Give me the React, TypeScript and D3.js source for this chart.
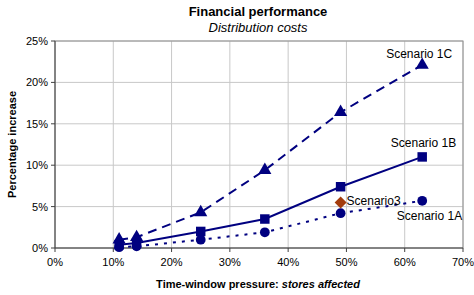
import * as d3 from "d3";

// x = share of stores affected (%), y = percentage increase (%)
const storesAffected = [11, 14, 25, 36, 49, 63];
const scenario1A = [0.1, 0.2, 1.0, 1.9, 4.2, 5.7];
const scenario1B = [0.4, 0.6, 2.0, 3.5, 7.4, 11.0];
const scenario1C = [1.0, 1.3, 4.3, 9.4, 16.4, 22.1];
const scenario3 = { x: 49, y: 5.5 };

const xTicks = [0, 10, 20, 30, 40, 50, 60, 70];
const yTicks = [0, 5, 10, 15, 20, 25];

const W = 474;
const H = 295;
const m = { left: 55, right: 11, top: 41, bottom: 47 };
const navy = "#000080";
const font = "'Liberation Sans', Arial, sans-serif";

const App = () => {
  const x = d3.scaleLinear().domain([0, 70]).range([m.left, W - m.right]);
  const y = d3.scaleLinear().domain([0, 25]).range([H - m.bottom, m.top]);
  const line = d3
    .line<number>()
    .x((_, i) => x(storesAffected[i]))
    .y((d) => y(d));

  const tri = d3.symbol(d3.symbolTriangle, 75)()!;
  const sq = d3.symbol(d3.symbolSquare, 90)()!;
  const circ = d3.symbol(d3.symbolCircle, 75)()!;
  const diamond = "M0,-6L6,0L0,6L-6,0Z";

  return (
    <svg
      width={W}
      height={H}
      style={{ position: "absolute", left: 0, top: 0, background: "#fff" }}
      fontFamily={font}
    >
      {/* grid */}
      {xTicks.slice(1).map((t) => (
        <line key={"gx" + t} x1={x(t)} x2={x(t)} y1={y(25)} y2={y(0)} stroke="#c8c8c8" />
      ))}
      {yTicks.slice(1).map((t) => (
        <line key={"gy" + t} x1={x(0)} x2={x(70)} y1={y(t)} y2={y(t)} stroke="#c8c8c8" />
      ))}
      <rect x={x(0)} y={y(25)} width={x(70) - x(0)} height={y(0) - y(25)} fill="none" stroke="#909090" />
      {/* axes */}
      <line x1={x(0)} x2={x(0)} y1={y(25)} y2={y(0)} stroke="#404040" />
      <line x1={x(0)} x2={x(70)} y1={y(0)} y2={y(0)} stroke="#404040" />
      {xTicks.map((t) => (
        <g key={"xt" + t}>
          <line x1={x(t)} x2={x(t)} y1={y(0)} y2={y(0) + 4} stroke="#404040" />
          <text x={x(t)} y={y(0) + 18} fontSize={11} textAnchor="middle" fill="#000">
            {t}%
          </text>
        </g>
      ))}
      {yTicks.map((t) => (
        <g key={"yt" + t}>
          <line x1={x(0) - 4} x2={x(0)} y1={y(t)} y2={y(t)} stroke="#404040" />
          <text x={x(0) - 7} y={y(t) + 4} fontSize={11} textAnchor="end" fill="#000">
            {t}%
          </text>
        </g>
      ))}

      {/* series */}
      <path d={line(scenario1C)!} fill="none" stroke={navy} strokeWidth={2} strokeDasharray="9,6" />
      <path d={line(scenario1B)!} fill="none" stroke={navy} strokeWidth={2} />
      <path d={line(scenario1A)!} fill="none" stroke={navy} strokeWidth={2} strokeDasharray="3,6" />
      {scenario1C.map((v, i) => (
        <path key={"c" + i} d={tri} transform={`translate(${x(storesAffected[i])},${y(v)})`} fill={navy} />
      ))}
      {scenario1B.map((v, i) => (
        <path key={"b" + i} d={sq} transform={`translate(${x(storesAffected[i])},${y(v)})`} fill={navy} />
      ))}
      {scenario1A.map((v, i) => (
        <path key={"a" + i} d={circ} transform={`translate(${x(storesAffected[i])},${y(v)})`} fill={navy} />
      ))}
      <path d={diamond} transform={`translate(${x(scenario3.x)},${y(scenario3.y)})`} fill="#a33c0c" />

      {/* series labels */}
      <g fontSize={12} fill="#000">
        <text x={x(63) + 30} y={y(22.1) - 7} textAnchor="end">Scenario 1C</text>
        <text x={x(63) + 34} y={y(11.0) - 10} textAnchor="end">Scenario 1B</text>
        <text x={x(49) + 6} y={y(5.5) + 3}>Scenario3</text>
        <text x={x(63) + 40} y={y(5.7) + 19} textAnchor="end">Scenario 1A</text>
      </g>

      {/* titles */}
      <text x={258} y={16} fontSize={13} fontWeight="bold" textAnchor="middle">
        Financial performance
      </text>
      <text x={258} y={32} fontSize={13} fontStyle="italic" textAnchor="middle">
        Distribution costs
      </text>
      <text
        transform={`translate(16,${(y(0) + y(25)) / 2}) rotate(-90)`}
        fontSize={11}
        fontWeight="bold"
        textAnchor="middle"
      >
        Percentage increase
      </text>
      <text x={258} y={288} fontSize={11} fontWeight="bold" textAnchor="middle">
        Time-window pressure: <tspan fontStyle="italic">stores affected</tspan>
      </text>
    </svg>
  );
};

export default App;
